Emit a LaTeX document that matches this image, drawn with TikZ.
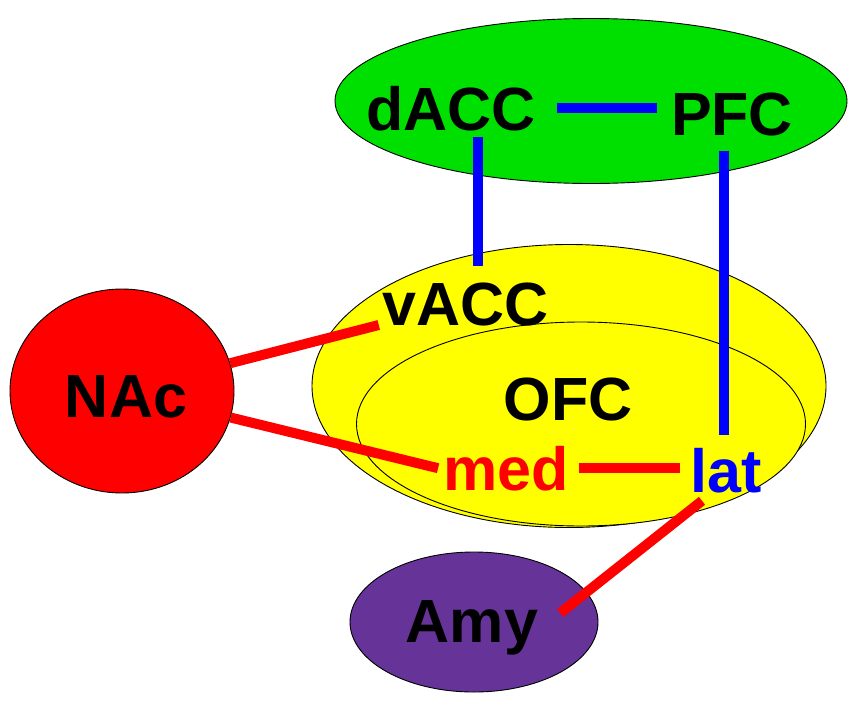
\documentclass[tikz,border=0pt]{standalone}
\usepackage{fontspec}
\setmainfont{Liberation Sans}
\usetikzlibrary{shapes.geometric}
\definecolor{regiongreen}{HTML}{00E000}
\definecolor{regionyellow}{HTML}{FFFF00}
\definecolor{regionred}{HTML}{FF0000}
\definecolor{regionpurple}{HTML}{663399}
\definecolor{linkblue}{HTML}{0000FF}
\definecolor{linkred}{HTML}{FF0000}
\begin{document}
\begin{tikzpicture}[x=1pt,y=-1pt,
  region/.style={ellipse, draw=black, line width=0.9pt, inner sep=0pt},
  lbl/.style={inner sep=0pt, anchor=base, font=\fontsize{61}{70}\selectfont\bfseries},
  bluelink/.style={draw=linkblue, line width=10pt},
  redlink/.style={draw=linkred, line width=10pt}]
\useasboundingbox (0,0) rectangle (858,704);
% regions
\node[region, fill=regiongreen, minimum width=512pt, minimum height=165pt] (top) at (591,101) {};
\node[region, fill=regionyellow, minimum width=514pt, minimum height=283pt] (outer) at (569,386) {};
\node[region, fill=regionyellow, minimum width=449pt, minimum height=204pt] (inner) at (581,424) {};
\node[region, fill=regionred, minimum width=224pt, minimum height=204pt] (nac) at (122,391) {};
\node[region, fill=regionpurple, minimum width=248pt, minimum height=140pt] (amyreg) at (474,622) {};
% labels
\node[lbl] (dacc) at (451,130) {dACC};
\node[lbl] (pfc) at (732,135) {PFC};
\node[lbl] (vacc) at (466,325) {vACC};
\node[lbl] (ofc) at (568,420) {OFC};
\node[lbl, text=linkred] (med) at (506,490) {med};
\node[lbl, text=linkblue] (lat) at (726,492) {lat};
\node[lbl] (nactxt) at (126,417) {NAc};
\node[lbl] (amy) at (472,642) {Amy};
% connectors
\draw[bluelink, shorten <=21pt, shorten >=14pt] (dacc.east) -- (dacc.east -| pfc.west);
\draw[bluelink, shorten <=6pt, shorten >=16pt] ([xshift=27pt]dacc.south) -- ([xshift=27pt]dacc.south |- vacc.north);
\draw[bluelink, shorten <=15pt, shorten >=13pt] ([xshift=-8pt]pfc.south) -- ([xshift=-8pt]pfc.south |- lat.north);
\draw[redlink, shorten <=10pt, shorten >=10pt] (med.east) -- (med.east -| lat.west);
\draw[redlink] ([shift={(-24,8)}]lat.south) -- ([shift={(22,-29)}]amy.base east);
\draw[redlink] (nac) -- ([xshift=-4pt]vacc.base west);
\draw[redlink] (nac) -- ([xshift=-5pt]med.west);
\end{tikzpicture}
\end{document}
